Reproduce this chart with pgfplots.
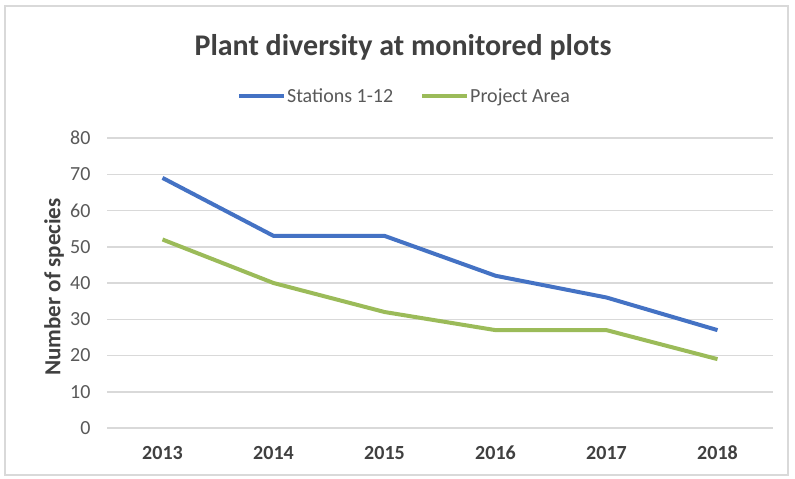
\documentclass[border=0pt]{standalone}
\usepackage{pgfplots}
\pgfplotsset{compat=1.18}
\usepackage{fontspec}
\setmainfont{Carlito}
\definecolor{sblue}{RGB}{68,114,196}
\definecolor{sgreen}{RGB}{155,187,89}
\definecolor{gridc}{RGB}{217,217,217}
\definecolor{txt}{RGB}{89,89,89}
\definecolor{dtxt}{RGB}{64,64,64}
\begin{document}
\begin{tikzpicture}[x=1pt,y=1pt]
\useasboundingbox (0,0) rectangle (795,479);
\fill[white] (0,0) rectangle (795,479);
\draw[gridc, line width=2pt] (5,4) rectangle (788,473);
\begin{axis}[
  at={(107pt,51pt)}, anchor=south west,
  scale only axis, width=666pt, height=290pt,
  xmin=-0.5, xmax=5.5, ymin=0, ymax=80,
  xtick={0,1,2,3,4,5},
  xticklabels={2013,2014,2015,2016,2017,2018},
  ytick={0,10,...,80},
  axis line style={draw=none},
  ymajorgrids, grid style={gridc, line width=1.5pt},
  major tick length=0pt,
  /pgf/number format/assume math mode=true,
  yticklabel style={font=\fontsize{20}{20}\selectfont, text=txt, xshift=-13pt},
  xticklabel style={font=\bfseries\fontsize{20}{20}\selectfont, text=dtxt, anchor=base, yshift=-31pt},
  legend style={at={(0.446,1.145)}, anchor=center, draw=none, fill=none,
    font=\fontsize{20}{20}\selectfont, text=txt,
    nodes={inner xsep=1pt},
    /tikz/every even column/.append style={column sep=26pt}},
  legend columns=2,
  legend image code/.code={\draw[#1] (0pt,0pt) -- (45pt,0pt);},
  clip=false,
]
\addplot[sblue, line width=4pt, line join=round] coordinates {(0,69) (1,53) (2,53) (3,42) (4,36) (5,27)};
\addlegendentry{Stations 1-12}
\addplot[sgreen, line width=4pt, line join=round] coordinates {(0,52) (1,40) (2,32) (3,27) (4,27) (5,19)};
\addlegendentry{Project Area}
\end{axis}
\node[font=\bfseries\fontsize{30}{30}\selectfont, text=dtxt] at (403,432) {Plant diversity at monitored plots};
\node[font=\bfseries\fontsize{23}{23}\selectfont, text=dtxt, rotate=90] at (54,192) {Number of species};
\end{tikzpicture}
\end{document}
